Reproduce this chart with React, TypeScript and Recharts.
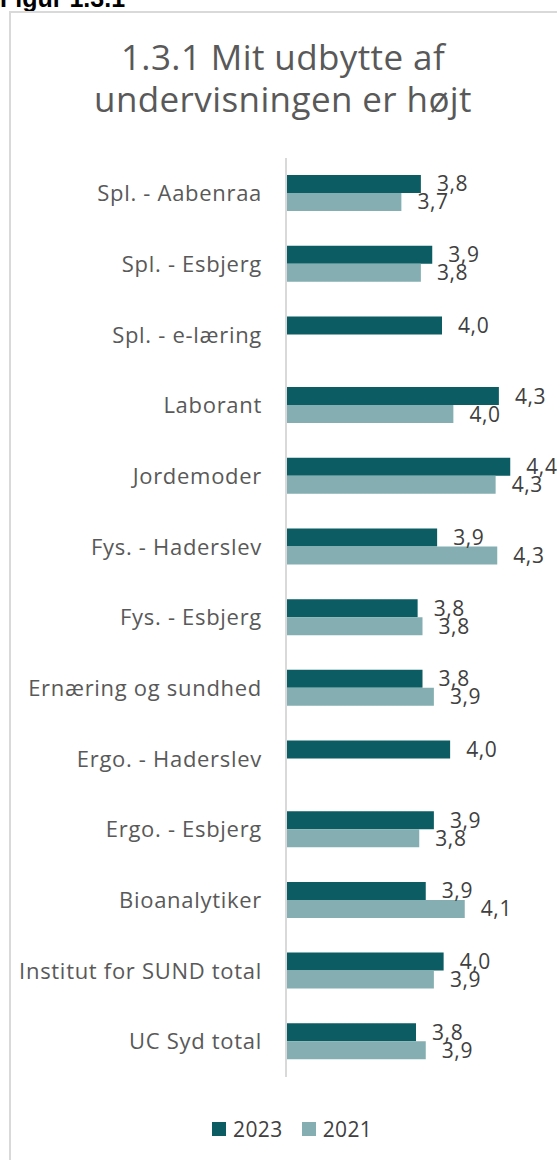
import { BarChart, Bar, XAxis, YAxis, LabelList } from 'recharts';

const categories = [
  'Spl. - Aabenraa',
  'Spl. - Esbjerg',
  'Spl. - e-læring',
  'Laborant',
  'Jordemoder',
  'Fys. - Haderslev',
  'Fys. - Esbjerg',
  'Ernæring og sundhed',
  'Ergo. - Haderslev',
  'Ergo. - Esbjerg',
  'Bioanalytiker',
  'Institut for SUND total',
  'UC Syd total',
];

// values, labels show one decimal
const values2023 = [3.83, 3.9, 3.96, 4.31, 4.38, 3.93, 3.81, 3.84, 4.01, 3.91, 3.86, 3.97, 3.8];
const values2021 = [3.71, 3.83, null, 4.03, 4.29, 4.3, 3.84, 3.91, null, 3.82, 4.1, 3.91, 3.86];

const seriesNames = ['2023', '2021'];
const colors = ['#0b5c63', '#84aeb1'];

const data = categories.map((name, i) => ({
  name,
  y2023: values2023[i],
  y2021: values2021[i],
}));

const fmt = (v: any) => (v == null ? '' : Number(v).toFixed(1).replace('.', ','));

const labelStyle = {
  fill: '#404040',
  fontSize: 21,
  letterSpacing: 0.6,
  fontFamily: '"Open Sans", sans-serif',
};

export default function App() {
  return (
    <div
      style={{
        position: 'absolute',
        left: 0,
        top: 0,
        width: 557,
        height: 1160,
        overflow: 'hidden',
        background: '#fff',
      }}
    >
      <div
        style={{
          position: 'absolute',
          left: 0,
          top: -14,
          fontFamily: '"Liberation Sans", Arial, sans-serif',
          fontWeight: 700,
          fontSize: 25,
          lineHeight: '24px',
          color: '#000',
          whiteSpace: 'nowrap',
        }}
      >
        Figur 1.3.1
      </div>
      <div
        style={{
          position: 'absolute',
          left: 9,
          top: 11,
          width: 700,
          height: 1300,
          border: '2px solid #d9d9d9',
        }}
      />
      <div
        style={{
          position: 'absolute',
          left: 0,
          top: 36,
          width: 566,
          textAlign: 'center',
          fontFamily: '"Open Sans", sans-serif',
          fontSize: 35,
          letterSpacing: 0.4,
          lineHeight: '42px',
          color: '#595959',
        }}
      >
        1.3.1 Mit udbytte af
        <br />
        undervisningen er højt
      </div>
      <div style={{ position: 'absolute', left: 0, top: 0 }}>
        <BarChart
          width={611}
          height={1160}
          data={data}
          layout="vertical"
          margin={{ top: 158, right: 0, bottom: 83, left: 0 }}
          barGap={0}
          barSize={18}
        >
          <XAxis type="number" domain={[3, 5]} hide allowDataOverflow />
          <YAxis
            type="category"
            dataKey="name"
            width={286}
            tickLine={false}
            tickSize={0}
            tickMargin={24}
            axisLine={{ stroke: '#d9d9d9', strokeWidth: 2 }}
            tick={{ fill: '#595959', fontSize: 22, letterSpacing: 0.7, fontFamily: '"Open Sans", sans-serif' }}
            interval={0}
          />
          <Bar dataKey="y2023" name={seriesNames[0]} fill={colors[0]} isAnimationActive={false}>
            <LabelList dataKey="y2023" position="right" offset={16} formatter={fmt} style={labelStyle} />
          </Bar>
          <Bar dataKey="y2021" name={seriesNames[1]} fill={colors[1]} isAnimationActive={false}>
            <LabelList dataKey="y2021" position="right" offset={16} formatter={fmt} style={labelStyle} />
          </Bar>
        </BarChart>
      </div>
      <div
        style={{
          position: 'absolute',
          left: 212,
          top: 1115,
          display: 'flex',
          alignItems: 'center',
          fontFamily: '"Open Sans", sans-serif',
          fontSize: 21,
          letterSpacing: 0.4,
          lineHeight: '28px',
          color: '#404040',
        }}
      >
        {seriesNames.map((s, i) => (
          <div key={s} style={{ display: 'flex', alignItems: 'center', marginRight: 19 }}>
            <span style={{ width: 14, height: 14, background: colors[i], marginRight: 7, display: 'inline-block' }} />
            <span>{s}</span>
          </div>
        ))}
      </div>
    </div>
  );
}
